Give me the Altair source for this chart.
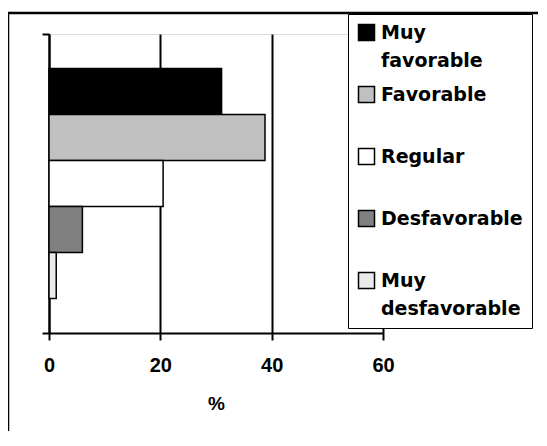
import altair as alt
import pandas as pd

categories = ["Muy favorable", "Favorable", "Regular", "Desfavorable", "Muy desfavorable"]
legend_lines = ["Muy|favorable", "Favorable|", "Regular|", "Desfavorable|", "Muy|desfavorable"]
values = [31.0, 38.8, 20.5, 6.0, 1.3]
fills = ["#000000", "#c0c0c0", "#ffffff", "#808080", "#ebebeb"]
x_ticks = [0, 20, 40, 60]
x_title = "%"

df = pd.DataFrame({"cat": categories, "val": values, "grp": ["g"] * len(categories)})

label_expr = ""
for c, l in zip(categories, legend_lines):
    label_expr += f"datum.label == '{c}' ? '{l}' : "
label_expr = f"split({label_expr}datum.label, '|')"

bars = alt.Chart(df).mark_bar(stroke="black", strokeWidth=1.5).encode(
    x=alt.X("val:Q", scale=alt.Scale(domain=[0, 60], nice=False, zero=True),
            axis=alt.Axis(values=x_ticks, title=x_title, grid=True, gridColor="black",
                          gridWidth=2, gridOpacity=1, domainColor="black", domainWidth=2,
                          tickColor="black", tickWidth=2, tickSize=7, labelFlush=False,
                          labelFont="Liberation Sans", labelFontSize=20, labelFontWeight="bold",
                          labelColor="black", labelPadding=15,
                          titleFont="Liberation Sans", titleFontSize=19, titleFontWeight="bold",
                          titleColor="black", titlePadding=19)),
    y=alt.Y("grp:N", title=None,
            axis=alt.Axis(labels=False, tickBand="extent", domainColor="black", domainWidth=2,
                          tickColor="black", tickWidth=2, tickSize=7, grid=False),
            scale=alt.Scale(paddingInner=0, paddingOuter=0)),
    yOffset=alt.YOffset("cat:N", sort=categories,
                        scale=alt.Scale(paddingInner=0, paddingOuter=0.75)),
    color=alt.Color("cat:N", sort=categories,
                    scale=alt.Scale(domain=categories, range=fills),
                    legend=alt.Legend(orient="none", legendX=299, legendY=-20, title=None,
                                      direction="vertical", fillColor="white",
                                      strokeColor="black", padding=9, rowPadding=12,
                                      gridAlign="all", symbolType="square", symbolSize=256,
                                      symbolStrokeColor="black", symbolStrokeWidth=1.5,
                                      labelFont="DejaVu Sans", labelFontSize=19,
                                      labelFontWeight="bold", labelColor="black",
                                      labelOffset=5, labelLimit=400, labelExpr=label_expr)),
)

frame_data = alt.Data(values=[{"f": 1}])
frame_top = alt.Chart(frame_data).mark_rule(color="#000000", strokeWidth=2.5, opacity=1).encode(
    x=alt.value(-42), x2=alt.value(498), y=alt.value(-21))
frame_left = alt.Chart(frame_data).mark_rule(color="#000000", strokeWidth=2.5, opacity=1).encode(
    x=alt.value(-41), y=alt.value(-22), y2=alt.value(420))

chart = alt.layer(frame_top, frame_left, bars).properties(
    width=334, height=299,
    autosize=alt.AutoSizeParams(type="none"),
    padding={"left": 41, "top": 26, "right": 155, "bottom": 98},
    background="white",
).configure_view(stroke="black", strokeWidth=2).configure_legend(strokeWidth=2).configure(
    style={"guide-label": {"lineHeight": 28}}
)

chart.save("out.html", embed_options={"renderer": "svg", "actions": False})
